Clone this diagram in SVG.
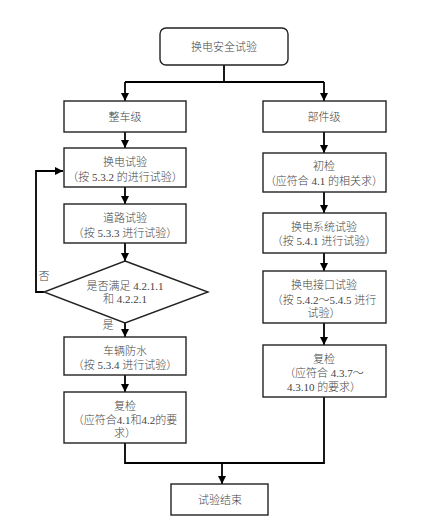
<svg xmlns="http://www.w3.org/2000/svg" width="442" height="521" viewBox="0 0 442 521">
<defs>
<marker id="arr" viewBox="0 0 10 10" refX="10" refY="5" markerWidth="8" markerHeight="8" markerUnits="userSpaceOnUse" orient="auto">
<path d="M0,0 L10,5 L0,10 Z" fill="#000"/>
</marker>
<style>
.box{fill:#fff;stroke:#222;stroke-width:1.4}
.t{font-family:"Liberation Serif","Noto Sans CJK SC",serif;font-size:11px;font-weight:300;fill:#444;text-anchor:middle}
.c{fill:none;stroke:#000;stroke-width:1.8}
</style>
</defs>
<rect width="442" height="521" fill="#fff"/>
<g id="connectors">
<path class="c" d="M224,65 V82 M125,82 H324"/>
<path class="c" d="M125,82 V101" marker-end="url(#arr)"/>
<path class="c" d="M324,82 V101" marker-end="url(#arr)"/>
<path class="c" d="M125,132 V148" marker-end="url(#arr)"/>
<path class="c" d="M125,187 V204" marker-end="url(#arr)"/>
<path class="c" d="M125,243 V261" marker-end="url(#arr)"/>
<path class="c" d="M44,292 H36 V171 H63" marker-end="url(#arr)"/>
<path class="c" d="M125,323 V337" marker-end="url(#arr)"/>
<path class="c" d="M125,375 V392" marker-end="url(#arr)"/>
<path class="c" d="M125,443 V463 H222"/>
<path class="c" d="M324,397 V463 H222"/>
<path class="c" d="M222,463 V484" marker-end="url(#arr)"/>
<path class="c" d="M324,132 V153" marker-end="url(#arr)"/>
<path class="c" d="M324,192 V213" marker-end="url(#arr)"/>
<path class="c" d="M324,253 V271" marker-end="url(#arr)"/>
<path class="c" d="M324,323 V345" marker-end="url(#arr)"/>
<text class="t" x="44" y="280">否</text>
<text class="t" x="108" y="329">是</text>
</g>
<g id="start">
<rect class="box" x="160" y="28" width="128" height="37" rx="6"/>
<text class="t" x="224" y="51">换电安全试验</text>
</g>
<g id="vehicle">
<rect class="box" x="64" y="101" width="122" height="31"/>
<text class="t" x="125" y="121">整车级</text>
</g>
<g id="component">
<rect class="box" x="263" y="101" width="123" height="31"/>
<text class="t" x="324" y="121">部件级</text>
</g>
<g id="swap-test">
<rect class="box" x="64" y="148" width="122" height="39"/>
<text class="t" x="125" y="166">换电试验</text>
<text class="t" x="125" y="181">（按 5.3.2 的进行试验）</text>
</g>
<g id="road-test">
<rect class="box" x="64" y="204" width="122" height="39"/>
<text class="t" x="125" y="222">道路试验</text>
<text class="t" x="125" y="237">（按 5.3.3 进行试验）</text>
</g>
<g id="decision">
<polygon class="box" points="125,261 208,292 125,323 44,292"/>
<text class="t" x="125" y="290">是否满足 4.2.1.1</text>
<text class="t" x="125" y="303">和 4.2.2.1</text>
</g>
<g id="waterproof">
<rect class="box" x="64" y="337" width="122" height="38"/>
<text class="t" x="125" y="355">车辆防水</text>
<text class="t" x="125" y="369">（按 5.3.4 进行试验）</text>
</g>
<g id="recheck-left">
<rect class="box" x="64" y="392" width="122" height="51"/>
<text class="t" x="125" y="410">复检</text>
<text class="t" x="125" y="424">（应符合4.1和4.2的要</text>
<text class="t" x="125" y="437">求）</text>
</g>
<g id="initial-check">
<rect class="box" x="263" y="153" width="123" height="39"/>
<text class="t" x="324" y="170">初检</text>
<text class="t" x="324" y="185">（应符合 4.1 的相关求）</text>
</g>
<g id="system-test">
<rect class="box" x="263" y="213" width="123" height="40"/>
<text class="t" x="324" y="231">换电系统试验</text>
<text class="t" x="324" y="245">（按 5.4.1 进行试验）</text>
</g>
<g id="interface-test">
<rect class="box" x="263" y="271" width="123" height="52"/>
<text class="t" x="324" y="289">换电接口试验</text>
<text class="t" x="324" y="304">（按 5.4.2～5.4.5 进行</text>
<text class="t" x="324" y="317">试验）</text>
</g>
<g id="recheck-right">
<rect class="box" x="263" y="345" width="123" height="52"/>
<text class="t" x="324" y="363">复检</text>
<text class="t" x="324" y="377">（应符合 4.3.7～</text>
<text class="t" x="324" y="391">4.3.10 的要求）</text>
</g>
<g id="end">
<rect class="box" x="171" y="484" width="97" height="31"/>
<text class="t" x="220" y="504">试验结束</text>
</g>
</svg>
